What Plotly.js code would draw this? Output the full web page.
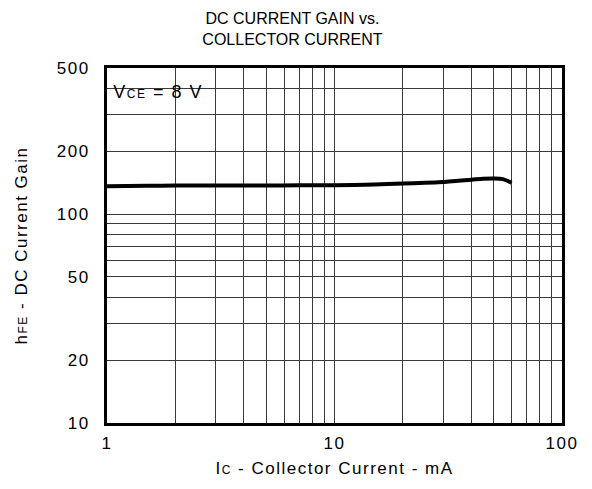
<!DOCTYPE html>
<html>
<head>
<meta charset="utf-8">
<script src="https://cdn.plot.ly/plotly-3.0.1.min.js"></script>
<style>
html,body{margin:0;padding:0;background:#fff;}
#chart{width:592px;height:489px;}
#chart .xtick text, #chart .ytick text, #chart .xtitle, #chart .ytitle, #chart .annotation-text { letter-spacing: 1.5px; }
</style>
</head>
<body>
<div id="chart"></div>
<script>
// Collector current (mA) and DC current gain hFE
const icValues = [1, 1.5, 2, 3, 5, 7, 10, 15, 20, 25, 30, 35, 40, 45, 50, 55, 60];
const hfeValues = [136, 136.5, 137, 137, 137, 137.2, 137.5, 138.5, 140, 141, 142.5, 144.5, 146, 147.5, 148, 147, 141];

const xTickVals = [1, 10, 100];
const xTickText = ['1', '10', '100'];
const xMinorGrid = [2, 3, 4, 5, 6, 7, 8, 9, 20, 30, 40, 50, 60, 70, 80, 90];
const yTickVals = [10, 20, 50, 100, 200, 500];
const yTickText = ['10', '20', '50', '100', '200', '500'];
const yMinorGrid = [30, 40, 60, 70, 80, 90, 300, 400];

const FONT = 'Liberation Sans, Arial, Helvetica, sans-serif';
const GRID = '#3a3a3a';

const data = [{
  x: icValues,
  y: hfeValues,
  type: 'scatter',
  mode: 'lines',
  line: {color: '#000', width: 4, shape: 'spline', smoothing: 0.8},
  hoverinfo: 'skip',
  showlegend: false
}];

const layout = {
  width: 592,
  height: 489,
  margin: {l: 107, r: 30, t: 68, b: 66},
  paper_bgcolor: '#fff',
  plot_bgcolor: '#fff',
  font: {family: FONT, color: '#000', size: 17},
  title: {
    text: 'DC CURRENT GAIN vs.<br>COLLECTOR CURRENT',
    font: {family: FONT, size: 16, color: '#000'},
    x: 0.494, xref: 'container', xanchor: 'center',
    y: 0.951, yref: 'container', yanchor: 'middle'
  },
  xaxis: {
    type: 'log',
    range: [0, 2],
    tickmode: 'array',
    tickvals: xTickVals,
    ticktext: xTickText,
    ticks: '',
    ticklabelstandoff: 3,
    showgrid: true,
    gridcolor: GRID,
    gridwidth: 1,
    minor: {tickmode: 'array', tickvals: xMinorGrid, showgrid: true, gridcolor: GRID, gridwidth: 1, ticks: ''},
    showline: true,
    linecolor: '#000',
    linewidth: 3,
    mirror: true,
    zeroline: false,
    tickfont: {family: FONT, size: 17, color: '#000'},
    title: {
      text: 'I<span style="font-size:12px">C</span> - Collector Current - mA',
      font: {family: FONT, size: 17, color: '#000'},
      standoff: 10
    }
  },
  yaxis: {
    type: 'log',
    range: [1, Math.log10(500)],
    tickmode: 'array',
    tickvals: yTickVals,
    ticktext: yTickText,
    ticks: '',
    ticklabelstandoff: 11,
    showgrid: true,
    gridcolor: GRID,
    gridwidth: 1,
    minor: {tickmode: 'array', tickvals: yMinorGrid, showgrid: true, gridcolor: GRID, gridwidth: 1, ticks: ''},
    showline: true,
    linecolor: '#000',
    linewidth: 3,
    mirror: true,
    zeroline: false,
    tickfont: {family: FONT, size: 17, color: '#000'},
    title: {
      text: 'h<span style="font-size:12px">FE</span> - DC Current Gain',
      font: {family: FONT, size: 17, color: '#000'},
      standoff: 30
    }
  },
  shapes: [{
    type: 'rect',
    xref: 'paper', yref: 'paper',
    x0: 0, x1: Math.log10(3) / 2,
    y0: (Math.log10(300) - 1) / (Math.log10(500) - 1), y1: 1,
    fillcolor: '#fff',
    line: {width: 0},
    layer: 'between'
  }],
  annotations: [{
    xref: 'paper', yref: 'paper',
    x: 0.024, y: 0.931,
    xanchor: 'left', yanchor: 'middle',
    showarrow: false,
    text: 'V<span style="font-size:12px">CE</span> = 8 V',
    font: {family: FONT, size: 18, color: '#000'}
  }]
};

Plotly.newPlot('chart', data, layout, {staticPlot: true, displayModeBar: false});
</script>
</body>
</html>
